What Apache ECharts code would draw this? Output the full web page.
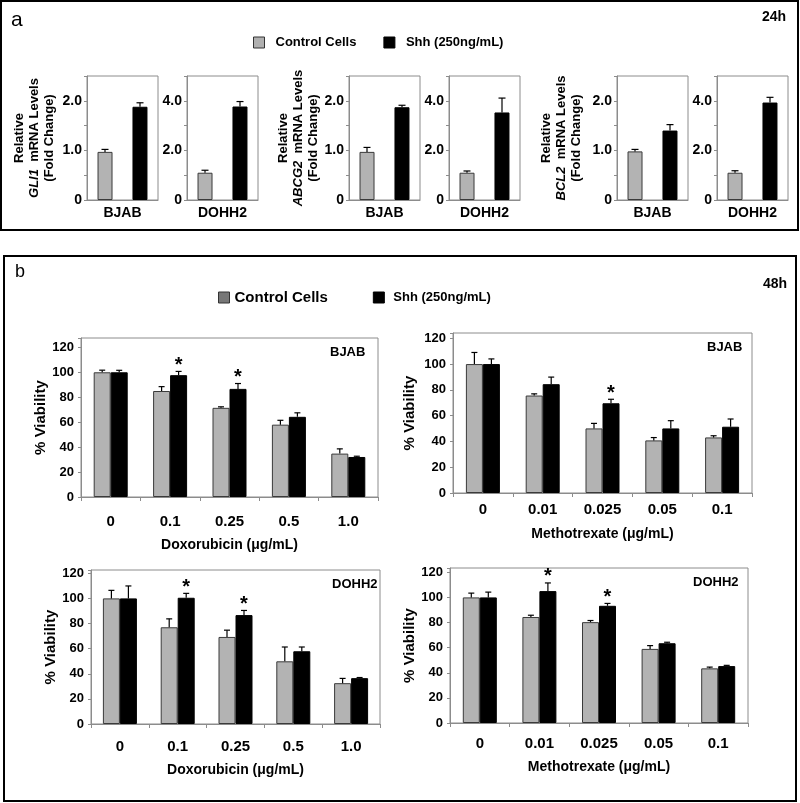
<!DOCTYPE html>
<html>
<head>
<meta charset="utf-8">
<script src="https://cdn.jsdelivr.net/npm/echarts@6/dist/echarts.min.js"></script>
<style>html,body{margin:0;padding:0;background:#fff}#c{width:800px;height:803px}</style>
</head>
<body>
<div id="c"></div>
<script>
// ---------- DATA ----------
// Panel a (24h): relative mRNA levels (fold change), [BJAB, DOHH2]
const aCells = ['BJAB', 'DOHH2'];
const aGenes = ['GLI1', 'ABCG2', 'BCL2'];
const gli1Ctrl = [0.97, 1.10];
const gli1CtrlErr = [0.05, 0.10];
const gli1Shh = [1.88, 3.77];
const gli1ShhErr = [0.08, 0.20];
const abcg2Ctrl = [0.97, 1.10];
const abcg2CtrlErr = [0.09, 0.07];
const abcg2Shh = [1.87, 3.53];
const abcg2ShhErr = [0.04, 0.58];
const bcl2Ctrl = [0.98, 1.10];
const bcl2CtrlErr = [0.04, 0.08];
const bcl2Shh = [1.40, 3.93];
const bcl2ShhErr = [0.12, 0.21];
const aYMax = [2.5, 5];
const aYStep = [0.5, 1];

// Panel b (48h): % viability
const doxDoses = ['0', '0.1', '0.25', '0.5', '1.0'];
const mtxDoses = ['0', '0.01', '0.025', '0.05', '0.1'];
const doxBjabCtrl = [100, 85, 71.5, 58, 34.8];
const doxBjabCtrlErr = [1.7, 3.5, 0.8, 3.5, 3.8];
const doxBjabShh = [100, 97.7, 86.7, 64.3, 32.1];
const doxBjabShhErr = [1.6, 3.0, 4.3, 3.2, 0.6];
const doxBjabSig = [0, 1, 1, 0, 0];
const mtxBjabCtrl = [100, 75.6, 50.1, 40.8, 43.1];
const mtxBjabCtrlErr = [9, 1.3, 3.9, 2.2, 1.3];
const mtxBjabShh = [100, 84.4, 69.6, 50.1, 51.4];
const mtxBjabShhErr = [4, 5.5, 3.1, 6, 6];
const mtxBjabSig = [0, 0, 1, 0, 0];
const doxDohh2Ctrl = [100, 77, 69.3, 49.9, 32.5];
const doxDohh2CtrlErr = [6.4, 6.7, 5.4, 11.4, 3.8];
const doxDohh2Shh = [100, 100.5, 86.7, 57.9, 36.5];
const doxDohh2ShhErr = [9.9, 3.5, 3.7, 3.4, 0.5];
const doxDohh2Sig = [0, 1, 1, 0, 0];
const mtxDohh2Ctrl = [100, 84.4, 80.3, 59, 43.5];
const mtxDohh2CtrlErr = [3.4, 1.4, 1.3, 2.6, 1.0];
const mtxDohh2Shh = [100, 105, 93.3, 63.5, 45.3];
const mtxDohh2ShhErr = [4.2, 6.5, 1.9, 0.8, 0.6];
const mtxDohh2Sig = [0, 1, 1, 0, 0];
const bYTicks = [0, 20, 40, 60, 80, 100, 120];

// ---------- CHART ----------
const FF = '"Liberation Sans", Arial, sans-serif';
const CTRL = 'Control Cells', SHH = 'Shh (250ng/mL)';
const AX = '#8c8c8c';
const option = {
  animation: false,
  backgroundColor: '#fff',
  textStyle: { fontFamily: FF },
  grid: [], xAxis: [], yAxis: [], series: [], legend: [], graphic: []
};

function addChart(c) {
  const gi = option.grid.length;
  option.grid.push({ left: c.left, top: c.top, width: c.width, height: c.height, show: true,
    borderColor: AX, borderWidth: 1, backgroundColor: 'transparent' });
  option.xAxis.push({
    type: 'category', gridIndex: gi, data: c.cats,
    axisLine: { show: true, lineStyle: { color: AX } },
    axisTick: { show: c.xTick, length: 4, lineStyle: { color: AX } },
    axisLabel: { color: '#000', fontWeight: 'bold', fontSize: c.xLabelSize, fontFamily: FF, margin: c.xLabelMargin, interval: 0 },
    name: c.xName || '', nameLocation: 'middle', nameGap: c.xNameGap || 0,
    nameTextStyle: { color: '#000', fontWeight: 'bold', fontSize: 14, fontFamily: FF }
  });
  option.yAxis.push({
    type: 'value', gridIndex: gi, min: 0, max: c.yMax, interval: c.yStep,
    axisLine: { show: true, lineStyle: { color: AX } },
    axisTick: { show: true, length: 3, lineStyle: { color: AX } },
    splitLine: { show: false },
    axisLabel: { color: '#000', fontWeight: 'bold', fontSize: c.yLabelSize, fontFamily: FF, margin: c.yLabelMargin,
      formatter: c.yFmt, showMaxLabel: true },
    name: c.yName, nameLocation: 'middle', nameGap: c.yNameGap,
    nameTextStyle: Object.assign({ color: '#000', fontWeight: 'bold', fontFamily: FF }, c.yNameStyle)
  });
  const barBase = { xAxisIndex: gi, yAxisIndex: gi, barWidth: c.barWidth, barGap: c.barGap, z: 2 };
  option.series.push(Object.assign({ type: 'bar', name: CTRL, data: c.ctrl,
    itemStyle: { color: '#b3b3b3', borderColor: '#3a3a3a', borderWidth: 1 } }, barBase));
  option.series.push(Object.assign({ type: 'bar', name: SHH, data: c.shh,
    itemStyle: { color: '#000', borderColor: '#000', borderWidth: 1 } }, barBase));
  const errData = [];
  c.ctrl.forEach((v, i) => {
    errData.push([i, v + c.ctrlErr[i], v, -1, 0]);
    errData.push([i, c.shh[i] + c.shhErr[i], c.shh[i], 1, c.sig ? c.sig[i] : 0]);
  });
  const off = c.off, cap = c.cap;
  option.series.push({
    type: 'custom', xAxisIndex: gi, yAxisIndex: gi, z: 5, data: errData, silent: true,
    renderItem: function (params, api) {
      const cat = api.value(0), top = api.value(1), base = api.value(2), side = api.value(3), sig = api.value(4);
      const pt = api.coord([cat, top]);
      const pb = api.coord([cat, base]);
      const x = pt[0] + side * off;
      const st = { stroke: '#000', lineWidth: 1.2 };
      const ch = [
        { type: 'line', shape: { x1: x, y1: pb[1], x2: x, y2: pt[1] }, style: st },
        { type: 'line', shape: { x1: x - cap, y1: pt[1], x2: x + cap, y2: pt[1] }, style: st }
      ];
      if (sig) ch.push({ type: 'text', style: { text: '*', x: x, y: pt[1] - 16, align: 'center', verticalAlign: 'top',
        font: 'bold 20px ' + FF, fill: '#000' } });
      return { type: 'group', children: ch };
    }
  });
}

// Panel a charts
const aData = [
  [gli1Ctrl, gli1CtrlErr, gli1Shh, gli1ShhErr],
  [abcg2Ctrl, abcg2CtrlErr, abcg2Shh, abcg2ShhErr],
  [bcl2Ctrl, bcl2CtrlErr, bcl2Shh, bcl2ShhErr]
];
const aLefts = [[87, 187], [349, 449], [617, 717]];
const aNameGap = [30, 27, 33];
aGenes.forEach((g, gi) => {
  aCells.forEach((cell, ci) => {
    const d = aData[gi];
    const step = aYStep[ci];
    addChart({
      left: aLefts[gi][ci], top: 76, width: 71, height: 124,
      cats: [cell], xTick: false, xLabelSize: 14, xLabelMargin: 6,
      yMax: aYMax[ci], yStep: step, yLabelSize: 14, yLabelMargin: 5,
      yFmt: v => (Math.abs(v / (2 * step) - Math.round(v / (2 * step))) < 1e-6) ? (v === 0 ? '0' : v.toFixed(1)) : '',
      yName: ci === 0 ? ('Relative\n{it|' + g + '}  mRNA Levels\n(Fold Change)') : '',
      yNameGap: aNameGap[gi],
      yNameStyle: { fontSize: 13, lineHeight: 15, rich: { it: { fontStyle: 'italic', fontWeight: 'bold', fontSize: 13, lineHeight: 15, fontFamily: FF } } },
      ctrl: [d[0][ci]], ctrlErr: [d[1][ci]], shh: [d[2][ci]], shhErr: [d[3][ci]],
      barWidth: 15, barGap: '133%', off: 17.5, cap: 3.5
    });
  });
});

// Panel b charts
const bFmt = v => (bYTicks.indexOf(v) >= 0 ? String(v) : '');
const bCharts = [
  { left: 81, top: 338, width: 297, height: 159, yMax: 127.5, cats: doxDoses, xName: 'Doxorubicin (\u03bcg/mL)', xNameGap: 41, xLabelMargin: 17, yNameGap: 29,
    ctrl: doxBjabCtrl, ctrlErr: doxBjabCtrlErr, shh: doxBjabShh, shhErr: doxBjabShhErr, sig: doxBjabSig },
  { left: 453, top: 333, width: 299, height: 160, yMax: 124.1, cats: mtxDoses, xName: 'Methotrexate (\u03bcg/mL)', xNameGap: 34, xLabelMargin: 9, yNameGap: 36,
    ctrl: mtxBjabCtrl, ctrlErr: mtxBjabCtrlErr, shh: mtxBjabShh, shhErr: mtxBjabShhErr, sig: mtxBjabSig },
  { left: 91, top: 570, width: 289, height: 154, yMax: 122.6, cats: doxDoses, xName: 'Doxorubicin (\u03bcg/mL)', xNameGap: 39, xLabelMargin: 15, yNameGap: 32,
    ctrl: doxDohh2Ctrl, ctrlErr: doxDohh2CtrlErr, shh: doxDohh2Shh, shhErr: doxDohh2ShhErr, sig: doxDohh2Sig },
  { left: 450, top: 568, width: 298, height: 155, yMax: 123.4, cats: mtxDoses, xName: 'Methotrexate (\u03bcg/mL)', xNameGap: 37, xLabelMargin: 13, yNameGap: 32,
    ctrl: mtxDohh2Ctrl, ctrlErr: mtxDohh2CtrlErr, shh: mtxDohh2Shh, shhErr: mtxDohh2ShhErr, sig: mtxDohh2Sig }
];
bCharts.forEach(c => {
  addChart(Object.assign({
    xTick: true, xLabelSize: 15, yStep: 20, yLabelSize: 13, yLabelMargin: 7, yFmt: bFmt,
    yName: '% Viability', yNameStyle: { fontSize: 15 },
    barWidth: 17, barGap: '0%', off: 8.5, cap: 3
  }, c));
});

// Legends
option.legend.push({
  left: 248, top: 31, itemWidth: 11, itemHeight: 11, itemGap: 27, selectedMode: false, icon: 'rect',
  data: [
    { name: CTRL, itemStyle: { color: '#b0b0b0', borderColor: '#333', borderWidth: 1 } },
    { name: SHH, itemStyle: { color: '#000', borderColor: '#000', borderWidth: 1 } }
  ],
  textStyle: { color: '#000', fontWeight: 'bold', fontSize: 13, fontFamily: FF, padding: [0, 0, 0, 6] }
});
option.legend.push({
  left: 213, top: 285, itemWidth: 11, itemHeight: 11, itemGap: 45, selectedMode: false, icon: 'rect',
  data: [
    { name: CTRL, itemStyle: { color: '#777777', borderColor: '#333', borderWidth: 1 } },
    { name: SHH, itemStyle: { color: '#000', borderColor: '#000', borderWidth: 1 } }
  ],
  formatter: n => n === CTRL ? '{big|' + n + '}' : '{sm|' + n + '}',
  textStyle: { color: '#000', fontWeight: 'bold', fontFamily: FF, padding: 0,
    rich: { big: { fontSize: 15, fontWeight: 'bold', fontFamily: FF }, sm: { fontSize: 13, fontWeight: 'bold', fontFamily: FF, padding: [0, 0, 0, 4] } } }
});

// Frames and labels
option.graphic = [
  { type: 'rect', shape: { x: 1, y: 1, width: 797, height: 229 }, style: { fill: 'none', stroke: '#000', lineWidth: 2 }, silent: true },
  { type: 'rect', shape: { x: 4, y: 256, width: 792, height: 545 }, style: { fill: 'none', stroke: '#000', lineWidth: 2 }, silent: true },
  { type: 'text', left: 11, top: 10, style: { text: 'a', font: '21px ' + FF, fill: '#000' } },
  { type: 'text', left: 762, top: 10, style: { text: '24h', font: 'bold 14px ' + FF, fill: '#000' } },
  { type: 'text', left: 15, top: 263, style: { text: 'b', font: '18px ' + FF, fill: '#000' } },
  { type: 'text', left: 763, top: 277, style: { text: '48h', font: 'bold 14px ' + FF, fill: '#000' } },
  { type: 'text', left: 330, top: 346, style: { text: 'BJAB', font: 'bold 13px ' + FF, fill: '#000' } },
  { type: 'text', left: 707, top: 341, style: { text: 'BJAB', font: 'bold 13px ' + FF, fill: '#000' } },
  { type: 'text', left: 332, top: 578, style: { text: 'DOHH2', font: 'bold 13px ' + FF, fill: '#000' } },
  { type: 'text', left: 693, top: 576, style: { text: 'DOHH2', font: 'bold 13px ' + FF, fill: '#000' } }
];

const chart = echarts.init(document.getElementById('c'), null, { renderer: 'canvas' });
chart.setOption(option);
</script>
</body>
</html>
